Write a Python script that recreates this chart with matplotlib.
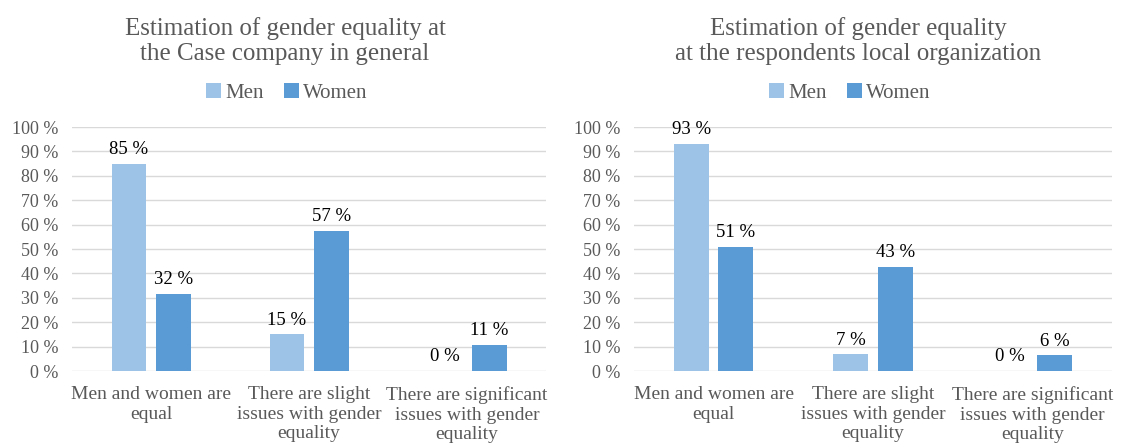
import matplotlib.pyplot as plt
import numpy as np

plt.rcParams['font.family'] = ['Liberation Serif', 'DejaVu Serif']

# Data (percent)
categories = ['Men and women are\nequal',
              'There are slight\nissues with gender\nequality',
              'There are significant\nissues with gender\nequality']
series_names = ['Men', 'Women']

general_men = [85, 15, 0]
general_women = [31.7, 57.3, 10.7]
local_men = [93, 6.8, 0]
local_women = [50.8, 42.6, 6.4]

titles = ['Estimation of gender equality at\nthe Case company in general',
          'Estimation of gender equality\nat the respondents local organization']
yticks = list(range(0, 101, 10))

men_color = '#9DC3E6'
women_color = '#5B9BD5'
text_gray = '#595959'

fig = plt.figure(figsize=(11.22, 4.47), dpi=100)
ax_left = fig.add_axes([72 / 1122, 1 - 371 / 447, 474 / 1122, 244 / 447])
ax_right = fig.add_axes([634 / 1122, 1 - 371 / 447, 478 / 1122, 244 / 447])

panels = [(ax_left, general_men, general_women, titles[0], 285, 287),
          (ax_right, local_men, local_women, titles[1], 858, 850)]

x = np.arange(len(categories))
width = 0.22
offset = 0.14

for ax, men, women, title, tx, lx in panels:
    b1 = ax.bar(x - offset, men, width, color=men_color, label=series_names[0], zorder=3)
    b2 = ax.bar(x + offset, women, width, color=women_color, label=series_names[1], zorder=3)
    for bars, vals in [(b1, men), (b2, women)]:
        for rect, v in zip(bars, vals):
            ax.annotate(f'{v:.0f} %', (rect.get_x() + rect.get_width() / 2, v),
                        xytext=(0, 7), textcoords='offset points',
                        ha='center', va='baseline', fontsize=13.5, color='black')
    ax.set_xlim(-0.5, 2.5)
    ax.set_ylim(0, 100)
    ax.set_yticks(yticks)
    ax.set_yticklabels([f'{t} %' for t in yticks], fontsize=13, color=text_gray)
    ax.set_xticks(x)
    ax.set_xticklabels(categories, fontsize=14, color=text_gray, linespacing=1.2)
    ax.tick_params(axis='y', length=0, pad=10)
    ax.tick_params(axis='x', length=0, pad=11)
    ax.grid(axis='y', color='#D9D9D9', linewidth=1, zorder=0)
    for s in ax.spines.values():
        s.set_visible(False)
    fig.text(tx / 1122, 1 - 41 / 447, title, ha='center', va='center',
             fontsize=18, color=text_gray, linespacing=1.2)
    fig.legend(handles=[b1, b2], labels=series_names, loc='center',
               bbox_to_anchor=(lx / 1122, 1 - 93 / 447), ncol=2, frameon=False,
               fontsize=15, labelcolor=text_gray, handlelength=0.7, handleheight=0.7,
               handletextpad=0.2, columnspacing=1.0)

fig.savefig('out.png', dpi=100)
